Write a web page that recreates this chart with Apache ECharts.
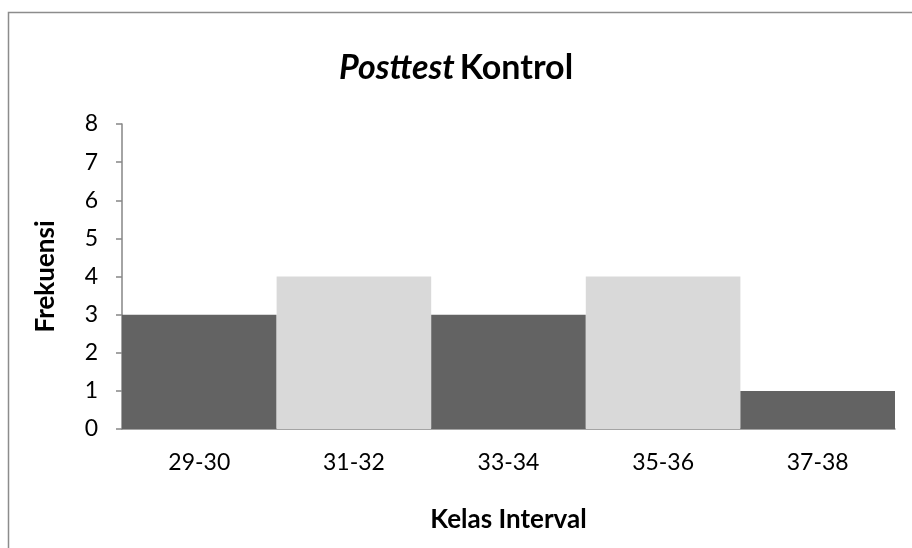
<!DOCTYPE html>
<html>
<head>
<meta charset="utf-8">
<script src="https://cdn.jsdelivr.net/npm/echarts@6/dist/echarts.min.js"></script>
<style>
  html, body { margin: 0; padding: 0; background: #ffffff; }
  #chart { width: 912px; height: 548px; }
</style>
</head>
<body>
<div id="chart"></div>
<script>
// Frequency distribution of post-test scores, control group
var categories = ['29-30', '31-32', '33-34', '35-36', '37-38'];
var frequencies = [3, 4, 3, 4, 1];
var barColors = ['#636363', '#d9d9d9', '#636363', '#d9d9d9', '#636363'];
var yTicks = [0, 1, 2, 3, 4, 5, 6, 7, 8];

var fontFamily = 'Lato, "Open Sans", sans-serif';
var chart = echarts.init(document.getElementById('chart'), null, { renderer: 'canvas' });

chart.setOption({
  backgroundColor: '#ffffff',
  animation: false,
  graphic: [{
    type: 'rect',
    shape: { x: 8.5, y: 12.5, width: 1000, height: 1000 },
    style: { fill: 'none', stroke: '#8c8c8c', lineWidth: 1.5 },
    silent: true,
    z: -1
  }],
  title: {
    text: '{i|Posttest} {b|Kontrol}',
    left: 'center',
    top: 46,
    textStyle: {
      rich: {
        i: { fontFamily: fontFamily, fontSize: 34, fontWeight: 'bold', fontStyle: 'italic', color: '#000' },
        b: { fontFamily: fontFamily, fontSize: 34, fontWeight: 'bold', color: '#000' }
      }
    }
  },
  grid: { left: 122, right: 17, top: 124, bottom: 119, containLabel: false },
  xAxis: {
    type: 'category',
    data: categories,
    name: 'Kelas Interval',
    nameLocation: 'middle',
    nameGap: 78,
    nameTextStyle: { fontFamily: fontFamily, fontSize: 26, fontWeight: 'bold', color: '#000' },
    axisLine: { lineStyle: { color: '#868686', width: 1.5 } },
    axisTick: { show: false },
    axisLabel: { fontFamily: fontFamily, fontSize: 23, color: '#000', margin: 22 }
  },
  yAxis: {
    type: 'value',
    min: yTicks[0],
    max: yTicks[yTicks.length - 1],
    interval: 1,
    name: 'Frekuensi',
    nameLocation: 'middle',
    nameGap: 63,
    nameTextStyle: { fontFamily: fontFamily, fontSize: 26, fontWeight: 'bold', color: '#000' },
    axisLine: { show: true, lineStyle: { color: '#868686', width: 1.5 } },
    axisTick: { show: true, length: 6, lineStyle: { color: '#868686', width: 1.5 } },
    splitLine: { show: false },
    axisLabel: { fontFamily: fontFamily, fontSize: 23, color: '#000', margin: 24 }
  },
  series: [{
    type: 'bar',
    data: frequencies.map(function (v, i) {
      return { value: v, itemStyle: { color: barColors[i] } };
    }),
    barWidth: '100%',
    barCategoryGap: 0
  }]
});
</script>
</body>
</html>
